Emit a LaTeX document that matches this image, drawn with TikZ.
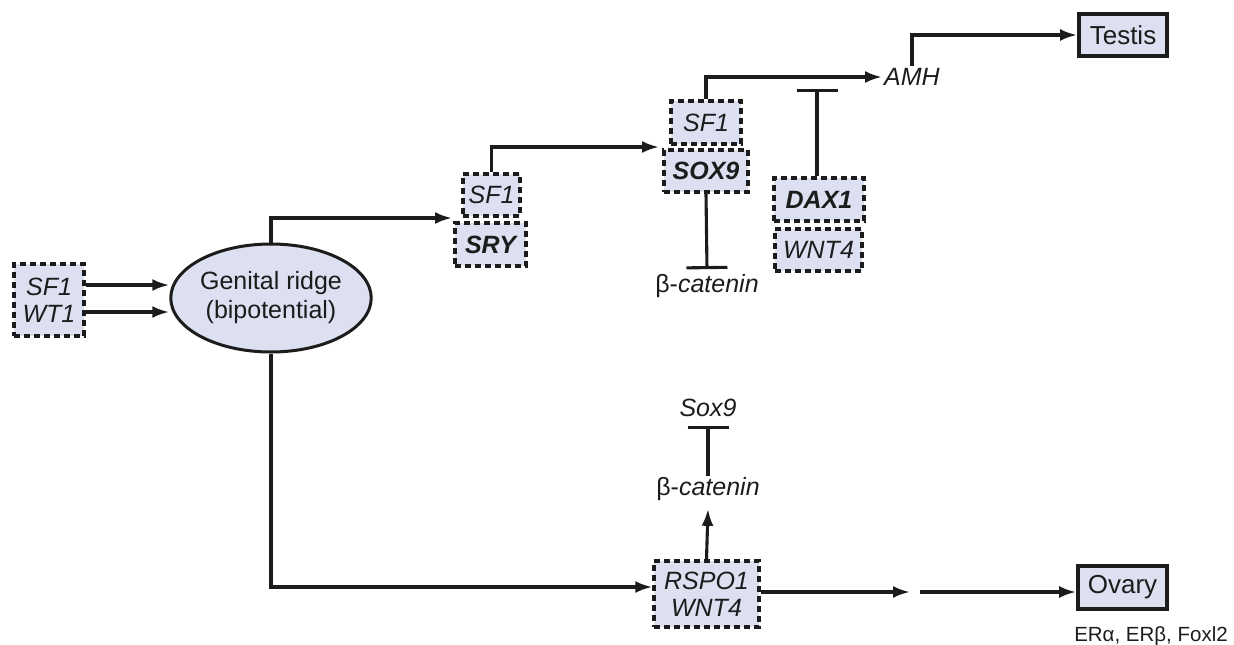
\documentclass[tikz,border=0pt]{standalone}
\usepackage{fontspec}
\setmainfont{Liberation Sans}
\usetikzlibrary{arrows.meta,shapes.geometric}
\definecolor{fillb}{RGB}{220,224,240}
\definecolor{ink}{RGB}{28,28,28}
\begin{document}
\begin{tikzpicture}[x=1pt,y=-1pt,
  every node/.style={text=ink},
  txt/.style={font=\fontsize{25}{27}\selectfont, inner sep=2pt},
  dbox/.style={draw=ink, fill=fillb, line width=3.4pt, dash pattern=on 6pt off 4pt, inner sep=0pt, align=center, font=\fontsize{25}{27}\selectfont\itshape},
  sbox/.style={draw=ink, fill=fillb, line width=3.8pt, inner sep=0pt, font=\fontsize{26}{28}\selectfont},
  ln/.style={draw=ink, line width=3.1pt},
  arr/.style={ln, -{Latex[length=17pt,width=12pt]}},
  inh/.style={ln, -{Bar[width=41pt,line width=3.1pt]}}]
\useasboundingbox (0,0) rectangle (1234,645);

% nodes
\node[dbox, minimum width=70, minimum height=72] (sfwt) at (49,300) {SF1\\WT1};
\node[ellipse, draw=ink, fill=fillb, line width=3pt, minimum width=181, minimum height=108, inner sep=0pt, align=center, font=\fontsize{25}{29}\selectfont] (gr) at (271,298) {Genital ridge\\(bipotential)};

\node[dbox, minimum width=57, minimum height=42] (sf1a) at (491.5,195) {SF1};
\node[dbox, minimum width=71, minimum height=43, font=\fontsize{25}{27}\selectfont\bfseries\itshape] (sry) at (490.5,244.5) {SRY};

\node[dbox, minimum width=70, minimum height=43] (sf1b) at (706,122.5) {SF1};
\node[dbox, minimum width=84, minimum height=42, font=\fontsize{25}{27}\selectfont\bfseries\itshape] (sox9) at (706,171) {SOX9};

\node[dbox, minimum width=90, minimum height=43, font=\fontsize{25}{27}\selectfont\bfseries\itshape] (dax1) at (819,199.5) {DAX1};
\node[dbox, minimum width=87, minimum height=42] (wnt4a) at (818.5,250) {WNT4};

\node[txt] (bcat1) at (707,286) {β-\textit{catenin}};
\node[txt] (amh) at (912,77) {\textit{AMH}};
\node[sbox, minimum width=88, minimum height=42] (testis) at (1123,35) {Testis};

\node[txt] (sox9b) at (708,408) {\textit{Sox9}};
\node[txt] (bcat2) at (708,489) {β-\textit{catenin}};
\node[dbox, minimum width=105, minimum height=66] (rspo) at (706.5,594) {RSPO1\\WNT4};
\node[sbox, minimum width=89, minimum height=43] (ovary) at (1122.5,587.5) {Ovary};
\node[txt, font=\fontsize{20.5}{22}\selectfont] (er) at (1151,636) {ERα, ERβ, Foxl2};

% coordinates
\coordinate (a1) at (0,285);
\coordinate (a2) at (0,312);
\coordinate (j1) at (452,218);
\coordinate (j2) at (659,147);
\coordinate (dx) at (817,89);
\coordinate (r1) at (0,587);
\coordinate (g1) at (910,592);
\coordinate (g2) at (920,592);

% connectors
\draw[arr] (sfwt.east |- a1) -- (gr.west |- a1);
\draw[arr] (sfwt.east |- a2) -- (gr.west |- a2);
\draw[arr] (gr.north) |- (j1);
\draw[arr] (sf1a.north) |- (j2);
\draw[arr] (sf1b.north) |- (amh.west);
\draw[arr] (amh.north) |- (testis.west);
\draw[inh] (dax1.north -| dx) -- (dx);
\draw[inh] (sox9.south) -- ([yshift=3pt]bcat1.north);
\draw[arr] (gr.south) |- (rspo.west |- r1);
\draw[arr] (rspo.north) -- ([yshift=-6pt]bcat2.south);
\draw[inh] ([yshift=-1pt]bcat2.north) -- ([yshift=-7pt]sox9b.south);
\draw[arr] (rspo.east |- g1) -- (g1);
\draw[arr] (g2) -- (ovary.west |- g2);
\end{tikzpicture}
\end{document}
